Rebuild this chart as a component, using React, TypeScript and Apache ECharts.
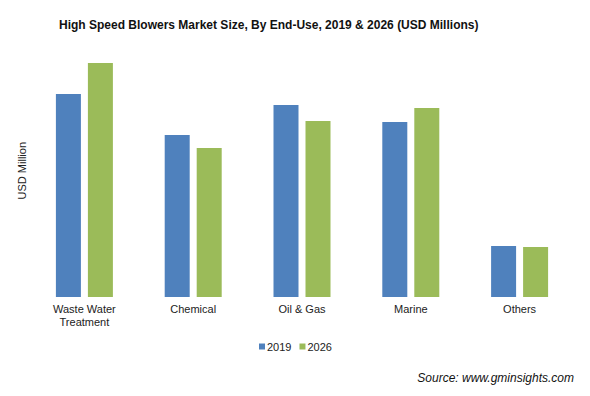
import React, { useEffect, useRef } from "react";
import * as echarts from "echarts";

const categories = ["Waste Water\nTreatment", "Chemical", "Oil & Gas", "Marine", "Others"];
const values2019 = [203, 162, 192, 175, 51];
const values2026 = [234, 149, 176, 189, 50];
const seriesNames = ["2019", "2026"];

export default function App() {
  const ref = useRef<HTMLDivElement>(null);
  useEffect(() => {
    if (!ref.current) return;
    const chart = echarts.init(ref.current, null, { renderer: "svg" });
    const font = "Arial, 'Liberation Sans', sans-serif";
    chart.setOption({
      animation: false,
      backgroundColor: "#ffffff",
      title: {
        text: "High Speed Blowers Market Size, By End-Use, 2019 & 2026 (USD Millions)",
        left: 54,
        top: 14,
        textStyle: { fontFamily: font, fontSize: 12, fontWeight: "bold", color: "#111" },
      },
      legend: {
        data: seriesNames,
        left: 254,
        top: 336,
        icon: "rect",
        itemWidth: 6,
        itemHeight: 6,
        itemGap: 8,
        textStyle: { fontFamily: font, fontSize: 11, color: "#222", padding: [0, 0, 0, -3] },
      },
      graphic: [
        {
          type: "text",
          right: 16,
          top: 372,
          style: {
            text: "Source: www.gminsights.com",
            font: "italic 12px Arial, 'Liberation Sans', sans-serif",
            fill: "#111",
          },
        },
        {
          type: "text",
          left: 16,
          top: 142,
          rotation: Math.PI / 2,
          style: {
            text: "USD Million",
            font: "11px Arial, 'Liberation Sans', sans-serif",
            fill: "#222",
          },
        },
      ],
      grid: { left: 30, right: 16, top: 57, bottom: 99 },
      xAxis: {
        type: "category",
        data: categories,
        axisLine: { show: false },
        axisTick: { show: false },
        axisLabel: {
          margin: 5,
          fontFamily: font,
          fontSize: 11,
          color: "#222",
          lineHeight: 13,
          interval: 0,
        },
      },
      yAxis: {
        type: "value",
        min: 0,
        max: 240,
        show: false,
        splitLine: { show: false },
      },
      series: [
        {
          name: seriesNames[0],
          type: "bar",
          data: values2019,
          barWidth: 25,
          barGap: "28%",
          itemStyle: { color: "#4F81BD" },
        },
        {
          name: seriesNames[1],
          type: "bar",
          data: values2026,
          barWidth: 25,
          barGap: "28%",
          itemStyle: { color: "#9BBB59" },
        },
      ],
    });
    return () => chart.dispose();
  }, []);
  return (
    <div
      ref={ref}
      style={{ position: "fixed", left: 0, top: 0, width: 590, height: 396, background: "#fff" }}
    />
  );
}
